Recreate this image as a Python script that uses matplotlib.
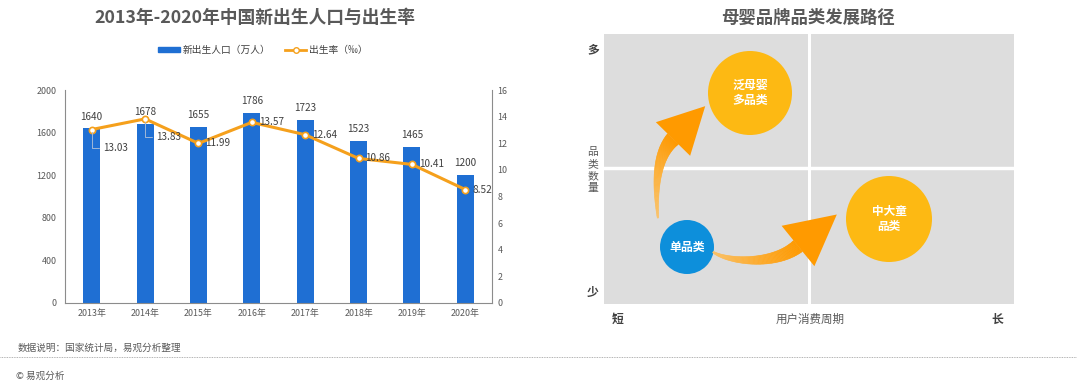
"""
2013-2020 births in China (bar + rate line) and a category path diagram
"""

import numpy as np
import matplotlib

matplotlib.use("Agg")
import matplotlib.pyplot as plt
from matplotlib.patches import Patch, Circle, Rectangle, Polygon
from matplotlib.lines import Line2D
from matplotlib.collections import PolyCollection
from matplotlib.colors import to_rgb

plt.rcParams["font.family"] = ["Noto Sans CJK SC", "DejaVu Sans"]

# data
years = ["2013年", "2014年", "2015年", "2016年", "2017年", "2018年", "2019年", "2020年"]
births = [1640, 1678, 1655, 1786, 1723, 1523, 1465, 1200]
rates = [13.03, 13.83, 11.99, 13.57, 12.64, 10.86, 10.41, 8.52]
leader_years = [0, 1]  # labels with a leader line

# diagram text
circle_texts = ["泛母婴\n多品类", "中大童\n品类", "单品类"]
y_label = "品类数量"

BLUE = "#1f6fd3"
ORANGE = "#f5a01c"
GREY = "#595959"
DARK = "#404040"


def bezier(pts, n):
    pts = [np.array(p, dtype=float) for p in pts]
    t = np.linspace(0, 1, n)[:, None]
    if len(pts) == 3:
        return (1 - t) ** 2 * pts[0] + 2 * (1 - t) * t * pts[1] + t**2 * pts[2]
    return ((1 - t) ** 3 * pts[0] + 3 * (1 - t) ** 2 * t * pts[1]
            + 3 * (1 - t) * t**2 * pts[2] + t**3 * pts[3])


def curvedArrow(ax, ctrl, w0, w1, head_w, head_len, c0, c1, n=80):
    pts = bezier(ctrl, n)
    d = np.gradient(pts, axis=0)
    d /= np.linalg.norm(d, axis=1)[:, None]
    nrm = np.stack([-d[:, 1], d[:, 0]], axis=1)
    w = np.linspace(w0, w1, n)[:, None] / 2
    left = pts + nrm * w
    right = pts - nrm * w
    c0 = np.array(to_rgb(c0))
    c1 = np.array(to_rgb(c1))
    polys = []
    cols = []
    for i in range(n - 1):
        polys.append([left[i], left[i + 1], right[i + 1], right[i]])
        f = i / (n - 2)
        cols.append(c0 * (1 - f) + c1 * f)
    ax.add_collection(PolyCollection(polys, facecolors=cols, edgecolors=cols,
                                     linewidths=0.4, zorder=4))
    tip = pts[-1] + d[-1] * head_len
    hl = pts[-1] + nrm[-1] * head_w / 2
    hr = pts[-1] - nrm[-1] * head_w / 2
    ax.add_patch(Polygon([hl, tip, hr], closed=True, color=c1, lw=0, zorder=4))


fig = plt.figure(figsize=(10.8, 3.86), dpi=100)

# ---- left: bar + line chart ----
ax = fig.add_axes([65 / 1080, 1 - 303 / 386, 427 / 1080, 213 / 386])
x = np.arange(len(years))
ax.bar(x, births, width=0.32, color=BLUE, zorder=2)
ax.set_xlim(-0.5, len(years) - 0.5)
ax.set_ylim(0, 2000)
ax.set_yticks(range(0, 2001, 400))
ax.set_xticks(x)
ax.set_xticklabels(years)
ax.tick_params(axis="both", length=0, labelsize=6.4, colors=GREY)
ax.tick_params(axis="y", pad=6)
ax.tick_params(axis="x", pad=4)
for s in ["top", "right"]:
    ax.spines[s].set_visible(False)
for s in ["left", "bottom"]:
    ax.spines[s].set_color("#8c8c8c")
    ax.spines[s].set_linewidth(0.8)

for i, v in enumerate(births):
    ax.annotate(str(v), (i, v), xytext=(0, 8.5), textcoords="offset points",
                ha="center", va="center", fontsize=7.2, color=DARK)

ax2 = ax.twinx()
ax2.plot(x, rates, color=ORANGE, lw=2.2, marker="o", ms=4.5,
         mfc="white", mec=ORANGE, mew=1.2, zorder=3)
ax2.set_ylim(0, 16)
ax2.set_yticks(range(0, 17, 2))
ax2.tick_params(axis="y", length=0, labelsize=6.4, colors=GREY, pad=4)
for s in ["top", "left", "bottom"]:
    ax2.spines[s].set_visible(False)
ax2.spines["right"].set_color("#8c8c8c")
ax2.spines["right"].set_linewidth(0.8)

for i, v in enumerate(rates):
    if i in leader_years:
        ax2.annotate("%.2f" % v, (i, v), xytext=(8, -13), textcoords="offset points",
                     ha="left", va="center", fontsize=7.2, color=DARK,
                     arrowprops=dict(arrowstyle="-", color="#9fb8d8", lw=0.7,
                                     shrinkA=1, shrinkB=2, relpos=(0, 0.5),
                                     connectionstyle="angle,angleA=0,angleB=90,rad=0"))
    else:
        ax2.annotate("%.2f" % v, (i, v), xytext=(5, 0), textcoords="offset points",
                     ha="left", va="center", fontsize=7.2, color=DARK)

fig.text(255 / 1080, 1 - 18 / 386, "2013年-2020年中国新出生人口与出生率",
         ha="center", va="center", fontsize=12.8, fontweight="bold", color=GREY)

handles = [Patch(color=BLUE),
           Line2D([], [], color=ORANGE, lw=2, marker="o", ms=4, mfc="white", mec=ORANGE)]
fig.legend(handles, ["新出生人口（万人）", "出生率（‰）"], loc="center",
           bbox_to_anchor=(263 / 1080, 1 - 50 / 386), ncol=2, frameon=False,
           fontsize=7, handlelength=2.2, handleheight=0.4, columnspacing=1.5,
           handletextpad=0.3, labelcolor=DARK)

# ---- overlay in pixel coords: right diagram + footer ----
ov = fig.add_axes([0, 0, 1, 1])
ov.set_xlim(0, 1080)
ov.set_ylim(386, 0)
ov.axis("off")
ov.patch.set_alpha(0)

ov.text(808, 18, "母婴品牌品类发展路径", ha="center", va="center",
        fontsize=12.5, fontweight="bold", color=GREY)

ov.add_patch(Rectangle((604, 34), 410, 270, color="#dddddd", lw=0, zorder=1))
ov.plot([809, 809], [34, 304], color="white", lw=2.2, zorder=2)
ov.plot([604, 1014], [168, 168], color="white", lw=2.5, zorder=2)

ov.text(593, 50, "多", ha="center", va="center", fontsize=8.5, fontweight="bold", color=DARK)
ov.text(593, 292, "少", ha="center", va="center", fontsize=8.5, fontweight="bold", color=DARK)
for k, ch in enumerate(y_label):
    ov.text(593, 152 + 12 * k, ch, ha="center", va="center", fontsize=7.8, color=GREY)
ov.text(618, 319, "短", ha="center", va="center", fontsize=8.5, fontweight="bold", color=DARK)
ov.text(997, 319, "长", ha="center", va="center", fontsize=8.5, fontweight="bold", color=DARK)
ov.text(810, 319, "用户消费周期", ha="center", va="center", fontsize=8.3, color=GREY)

ov.add_patch(Circle((750, 93), 42, color="#fdb913", lw=0, zorder=3))
ov.add_patch(Circle((889, 219), 43, color="#fdb913", lw=0, zorder=3))
ov.add_patch(Circle((687, 247), 27, color="#0d8fdb", lw=0, zorder=3))
ov.text(750, 93, circle_texts[0], ha="center", va="center", fontsize=8.6,
        fontweight="bold", color="white", linespacing=1.25, zorder=5)
ov.text(889, 219, circle_texts[1], ha="center", va="center", fontsize=8.4,
        fontweight="bold", color="white", linespacing=1.25, zorder=5)
ov.text(687, 247, circle_texts[2], ha="center", va="center", fontsize=8.6,
        fontweight="bold", color="white", zorder=5)

curvedArrow(ov, [(658, 218), (652, 160), (673, 139)], 1.5, 15, 48, 46,
            "#fbc36a", "#ff9a00")
curvedArrow(ov, [(713, 252), (728, 262), (774, 266), (798, 246)], 1.5, 14, 52, 50,
            "#fbc36a", "#ff9a00")

# footer
ov.text(18, 348, "数据说明：国家统计局，易观分析整理", ha="left", va="center",
        fontsize=6.9, color=GREY)
ov.plot([0, 1076], [357, 357], color="#9a9a9a", lw=0.6, ls=(0, (1, 1)))
ov.text(16, 376, "© 易观分析", ha="left", va="center", fontsize=6.9, color=GREY)

fig.savefig("out.png", dpi=100)
